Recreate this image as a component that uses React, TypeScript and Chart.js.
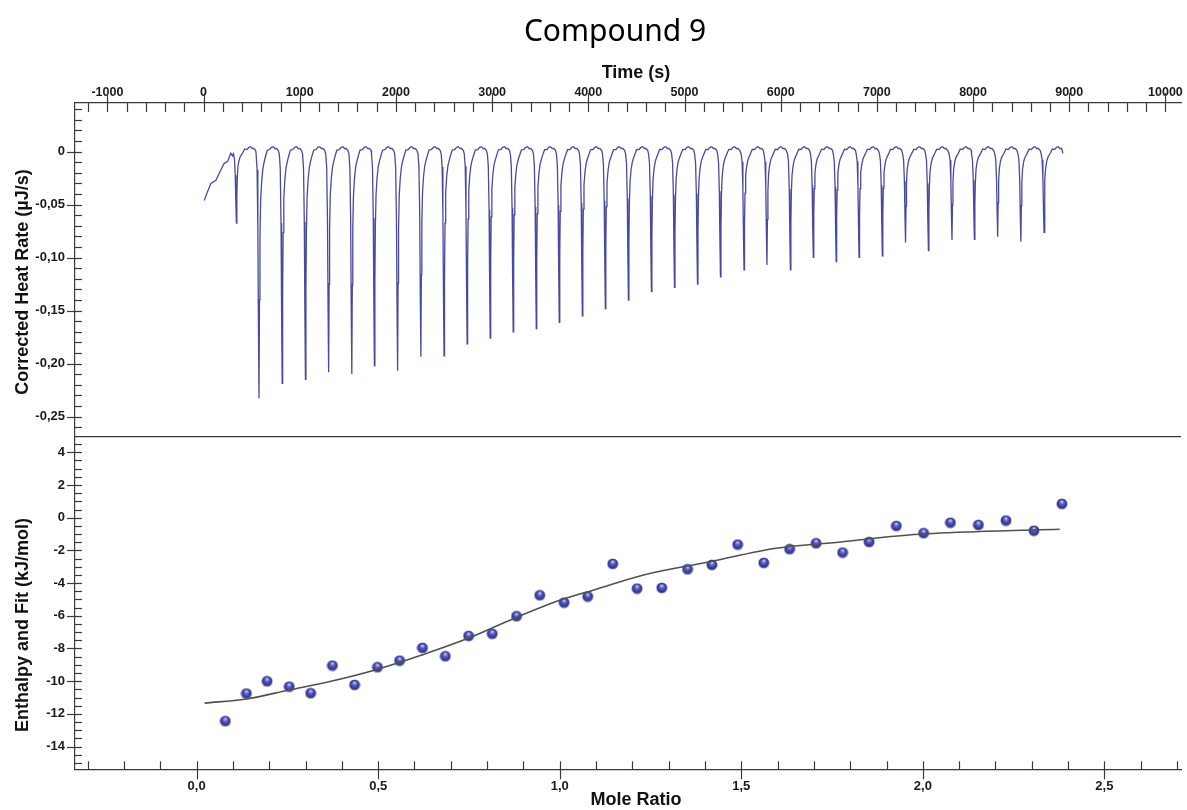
import React, { useEffect, useRef } from "react";
import { Chart, registerables } from "chart.js";

Chart.register(...registerables);

// ---------- text ----------
const TITLE = "Compound 9";
const TIME_TITLE = "Time (s)";
const HEAT_TITLE = "Corrected Heat Rate (µJ/s)";
const ENTH_TITLE = "Enthalpy and Fit (kJ/mol)";
const MR_TITLE = "Mole Ratio";

// ---------- tick labels ----------
const timeTicks = [-1000, 0, 1000, 2000, 3000, 4000, 5000, 6000, 7000, 8000, 9000, 10000];
const timeTickLabels = ["-1000", "0", "1000", "2000", "3000", "4000", "5000", "6000", "7000", "8000", "9000", "10000"];
const heatTicks = [-0.25, -0.2, -0.15, -0.1, -0.05, 0];
const heatTickLabels = ["-0,25", "-0,20", "-0,15", "-0,10", "-0,05", "0"];
const enthTicks = [-14, -12, -10, -8, -6, -4, -2, 0, 2, 4];
const enthTickLabels = ["-14", "-12", "-10", "-8", "-6", "-4", "-2", "0", "2", "4"];
const moleTicks = [0, 0.5, 1, 1.5, 2, 2.5];
const moleTickLabels = ["0,0", "0,5", "1,0", "1,5", "2,0", "2,5"];

// ---------- thermogram ----------
const preTimes = [7, 41, 76, 128, 170, 214, 248, 283, 300];
const preValues = [-0.046, -0.0377, -0.03, -0.027, -0.019, -0.011, -0.0094, -0.0015, -0.004];
const injTimes = [
  341, 576, 817, 1059, 1300, 1541, 1776, 2017, 2259, 2500, 2740,
  2980, 3219, 3459, 3698, 3938, 4177, 4417, 4656, 4896, 5135,
  5374, 5619, 5857, 6101, 6339, 6577, 6815, 7057, 7298, 7536, 7781, 8014, 8256, 8497, 8738,
];
const injDepths = [
  0.0675, 0.2327, 0.2185, 0.2147, 0.2081, 0.2097, 0.2019, 0.2066, 0.1934, 0.1927, 0.1814,
  0.176, 0.17, 0.167, 0.161, 0.155, 0.148, 0.14, 0.132, 0.128, 0.125,
  0.118, 0.1116, 0.107, 0.1116, 0.0997, 0.1038, 0.0997, 0.0984, 0.0858, 0.0934, 0.0833, 0.0827, 0.0802, 0.0849, 0.0761,
];
// shape of one injection cycle, read from a single peak (seconds from peak minimum)
const peakOffsets = [-30, -20, -12, -6, 0, 5, 10, 17, 28, 40, 52, 70, 86, 110, 130, 148, 165, 182, 200];
const peakShape = [0, 0.06, 0.3, 0.7, 1, 0.6, 0.35, 0.2, 0.12, 0.07, 0.045, 0.02, 0.007, 0, 0, 0, 0, 0, 0];
const plateauShape = [-0.002, -0.003, -0.002, 0, 0, 0, 0, 0, 0, 0, 0, 0.001, 0.003, 0.002, 0.004, 0.0047, 0.003, 0.003, 0.0012];
const traceEndTime = 8935;
const traceEndValue = -0.0015;

// ---------- integrated heats ----------
const moleRatio = [
  0.079, 0.137, 0.194, 0.255, 0.314, 0.374, 0.435, 0.498, 0.559, 0.622,
  0.685, 0.749, 0.814, 0.881, 0.945, 1.012, 1.077, 1.146, 1.213, 1.281,
  1.352, 1.419, 1.49, 1.562, 1.633, 1.706, 1.779, 1.852, 1.927, 2.002,
  2.076, 2.153, 2.229, 2.306, 2.383,
];
const enthalpy = [
  -12.45, -10.76, -10.01, -10.34, -10.74, -9.05, -10.23, -9.15, -8.75, -7.97,
  -8.48, -7.24, -7.11, -6.03, -4.75, -5.2, -4.83, -2.83, -4.34, -4.3,
  -3.16, -2.89, -1.65, -2.77, -1.93, -1.57, -2.14, -1.49, -0.51, -0.95,
  -0.31, -0.45, -0.18, -0.8, 0.84,
];
const fitX = [0.022, 0.136, 0.255, 0.373, 0.501, 0.62, 0.748, 0.875, 1.0, 1.094, 1.231, 1.414, 1.596, 1.779, 1.961, 2.144, 2.377];
const fitY = [-11.34, -11.09, -10.54, -9.99, -9.25, -8.4, -7.38, -6.15, -5.05, -4.42, -3.5, -2.69, -1.87, -1.47, -1.06, -0.86, -0.71];

// ---------- axis ranges ----------
const TIME_MIN = -1337, TIME_MAX = 10162;
const HEAT_MIN = -0.2689, HEAT_MAX = 0.0459;
const ENTH_MIN = -15.39, ENTH_MAX = 4.954;
const MR_MIN = -0.335, MR_MAX = 2.711;

// ---------- style ----------
const FONT = '"Liberation Sans", Arial, sans-serif';
const AXIS = "#3a3a3a";
const TRACE = "#474a9e";
const FIT = "#505050";
const LABEL = "#1a1a1a";

function buildTrace() {
  const pts: { x: number; y: number }[] = [];
  preTimes.forEach((t, i) => pts.push({ x: t, y: preValues[i] }));
  injTimes.forEach((T, i) => {
    peakOffsets.forEach((off, k) => {
      const t = T + off;
      if (t >= traceEndTime) return;
      pts.push({ x: t, y: plateauShape[k] - injDepths[i] * peakShape[k] });
    });
  });
  pts.push({ x: traceEndTime, y: traceEndValue });
  return pts;
}

function makeSphere() {
  const c = document.createElement("canvas");
  c.width = 12;
  c.height = 12;
  const g = c.getContext("2d")!;
  const grad = g.createRadialGradient(6, 3.6, 0.4, 6, 6, 6);
  grad.addColorStop(0, "#c6c9f3");
  grad.addColorStop(0.3, "#5c61c2");
  grad.addColorStop(0.72, "#2f3290");
  grad.addColorStop(1, "rgba(47,50,144,0.45)");
  g.fillStyle = grad;
  g.beginPath();
  g.arc(6, 6, 5.6, 0, Math.PI * 2);
  g.fill();
  return c;
}

const fixW = (w: number) => (s: any) => {
  s.width = w;
  s.paddingTop = 0;
  s.paddingBottom = 0;
  s.paddingLeft = 0;
  s.paddingRight = 0;
};
const fixH = (h: number) => (s: any) => {
  s.height = h;
  s.paddingTop = 0;
  s.paddingBottom = 0;
  s.paddingLeft = 0;
  s.paddingRight = 0;
};

const overlay = {
  id: "overlay",
  afterDraw(chart: any) {
    const { ctx, chartArea: ca, scales } = chart;
    const xt = scales.xTime, xm = scales.xMR, yh = scales.yHeat, ye = scales.yEnth;
    ctx.save();
    ctx.strokeStyle = AXIS;
    ctx.lineWidth = 1.2;
    const seg = (x1: number, y1: number, x2: number, y2: number) => {
      ctx.beginPath();
      ctx.moveTo(x1, y1);
      ctx.lineTo(x2, y2);
      ctx.stroke();
    };
    // separator between the two panels
    const ySep = yh.bottom;
    seg(ca.left, ySep, ca.right, ySep);

    // top time axis ticks (minor 200, major 1000)
    for (let k = Math.ceil(TIME_MIN / 200); k * 200 <= TIME_MAX; k++) {
      const x = Math.round(xt.getPixelForValue(k * 200)) + 0.5;
      if (k % 5 === 0) seg(x, ca.top - 10, x, ca.top + 9);
      else seg(x, ca.top, x, ca.top + 9);
    }
    // bottom mole ratio ticks (minor 0.1, major 0.5)
    for (let k = Math.ceil(MR_MIN / 0.1); k * 0.1 <= MR_MAX + 1e-9; k++) {
      const x = Math.round(xm.getPixelForValue(k * 0.1)) + 0.5;
      if (k % 5 === 0) seg(x, ca.bottom + 10, x, ca.bottom - 8);
      else seg(x, ca.bottom, x, ca.bottom - 8);
    }
    // heat y ticks (minor 0.01, major 0.05)
    for (let k = Math.ceil(HEAT_MIN / 0.01); k * 0.01 <= HEAT_MAX + 1e-9; k++) {
      const y = Math.round(yh.getPixelForValue(k * 0.01)) + 0.5;
      if (y >= ySep - 1) continue;
      if (k % 5 === 0) seg(ca.left - 8, y, ca.left + 7, y);
      else seg(ca.left, y, ca.left + 7, y);
    }
    // enthalpy y ticks (minor 0.5, major 2)
    for (let k = Math.ceil(ENTH_MIN / 0.5); k * 0.5 <= ENTH_MAX + 1e-9; k++) {
      const y = Math.round(ye.getPixelForValue(k * 0.5)) + 0.5;
      if (y <= ySep + 1) continue;
      if (k % 4 === 0) seg(ca.left - 8, y, ca.left + 7, y);
      else seg(ca.left, y, ca.left + 7, y);
    }

    // titles
    ctx.fillStyle = "#000";
    ctx.font = '30px "Noto Sans", "Open Sans", sans-serif';
    ctx.textAlign = "center";
    ctx.textBaseline = "alphabetic";
    ctx.fillText(TITLE, 615, 41);

    ctx.fillStyle = "#111";
    ctx.font = `bold 18px ${FONT}`;
    ctx.textBaseline = "middle";
    ctx.fillText(TIME_TITLE, 636, 73);
    ctx.fillText(MR_TITLE, 636, 800);
    ctx.save();
    ctx.translate(23, 282);
    ctx.rotate(-Math.PI / 2);
    ctx.fillText(HEAT_TITLE, 0, 0);
    ctx.restore();
    ctx.save();
    ctx.translate(23, 625);
    ctx.rotate(-Math.PI / 2);
    ctx.fillText(ENTH_TITLE, 0, 0);
    ctx.restore();
    ctx.restore();
  },
};

export default function App() {
  const ref = useRef<HTMLCanvasElement>(null);

  useEffect(() => {
    const canvas = ref.current;
    if (!canvas) return;
    const sphere = makeSphere();
    const trace = buildTrace();
    const border = { display: true, color: AXIS, width: 1.2 };
    const grid = { display: false, drawTicks: false };
    const xFont = { family: FONT, size: 12.5, weight: "bold" as const };
    const yFont = { family: FONT, size: 13, weight: "bold" as const };

    const chart = new Chart(canvas, {
      type: "scatter",
      data: {
        datasets: [
          {
            label: "Corrected heat rate",
            data: trace,
            xAxisID: "xTime",
            yAxisID: "yHeat",
            showLine: true,
            borderColor: TRACE,
            borderWidth: 1.3,
            pointRadius: 0,
            tension: 0,
          },
          {
            label: "Fit",
            data: fitX.map((x, i) => ({ x, y: fitY[i] })),
            xAxisID: "xMR",
            yAxisID: "yEnth",
            showLine: true,
            borderColor: FIT,
            borderWidth: 1.6,
            pointRadius: 0,
            cubicInterpolationMode: "monotone",
          },
          {
            label: "Enthalpy",
            data: moleRatio.map((x, i) => ({ x, y: enthalpy[i] })),
            xAxisID: "xMR",
            yAxisID: "yEnth",
            showLine: false,
            pointStyle: sphere as any,
            pointRadius: 5,
          },
        ],
      },
      options: {
        animation: false,
        responsive: true,
        maintainAspectRatio: false,
        layout: { padding: { top: 50, left: 0, right: 0, bottom: 0 } },
        plugins: { legend: { display: false }, tooltip: { enabled: false }, title: { display: false } },
        scales: {
          xTime: {
            type: "linear",
            axis: "x",
            position: "top",
            min: TIME_MIN,
            max: TIME_MAX,
            grid,
            border,
            ticks: {
              font: xFont,
              color: LABEL,
              padding: 3,
              autoSkip: false,
              maxRotation: 0,
              callback: (_v: any, i: number) => timeTickLabels[i],
            },
            afterBuildTicks: (s: any) => {
              s.ticks = timeTicks.map((v) => ({ value: v }));
            },
            afterFit: fixH(53),
          },
          xMR: {
            type: "linear",
            axis: "x",
            position: "bottom",
            min: MR_MIN,
            max: MR_MAX,
            grid,
            border,
            ticks: {
              font: yFont,
              color: LABEL,
              padding: 9,
              autoSkip: false,
              maxRotation: 0,
              callback: (_v: any, i: number) => moleTickLabels[i],
            },
            afterBuildTicks: (s: any) => {
              s.ticks = moleTicks.map((v) => ({ value: v }));
            },
            afterFit: fixH(40.7),
          },
          yEnth: {
            type: "linear",
            axis: "y",
            position: "left",
            stack: "panels",
            stackWeight: 332.6,
            weight: 0,
            min: ENTH_MIN,
            max: ENTH_MAX,
            grid,
            border,
            ticks: {
              font: yFont,
              color: LABEL,
              padding: 10,
              autoSkip: false,
              callback: (_v: any, i: number) => enthTickLabels[i],
            },
            afterBuildTicks: (s: any) => {
              s.ticks = enthTicks.map((v) => ({ value: v }));
            },
            afterFit: fixW(75),
          },
          yHeat: {
            type: "linear",
            axis: "y",
            position: "left",
            stack: "panels",
            stackWeight: 333.7,
            weight: 1,
            min: HEAT_MIN,
            max: HEAT_MAX,
            grid,
            border,
            ticks: {
              font: yFont,
              color: LABEL,
              padding: 10,
              autoSkip: false,
              callback: (_v: any, i: number) => heatTickLabels[i],
            },
            afterBuildTicks: (s: any) => {
              s.ticks = heatTicks.map((v) => ({ value: v }));
            },
            afterFit: fixW(75),
          },
        } as any,
      },
      plugins: [overlay as any],
    });
    return () => chart.destroy();
  }, []);

  return (
    <div style={{ position: "absolute", left: 0, top: 0, width: 1187, height: 810, background: "#fff" }}>
      <canvas ref={ref} />
    </div>
  );
}
